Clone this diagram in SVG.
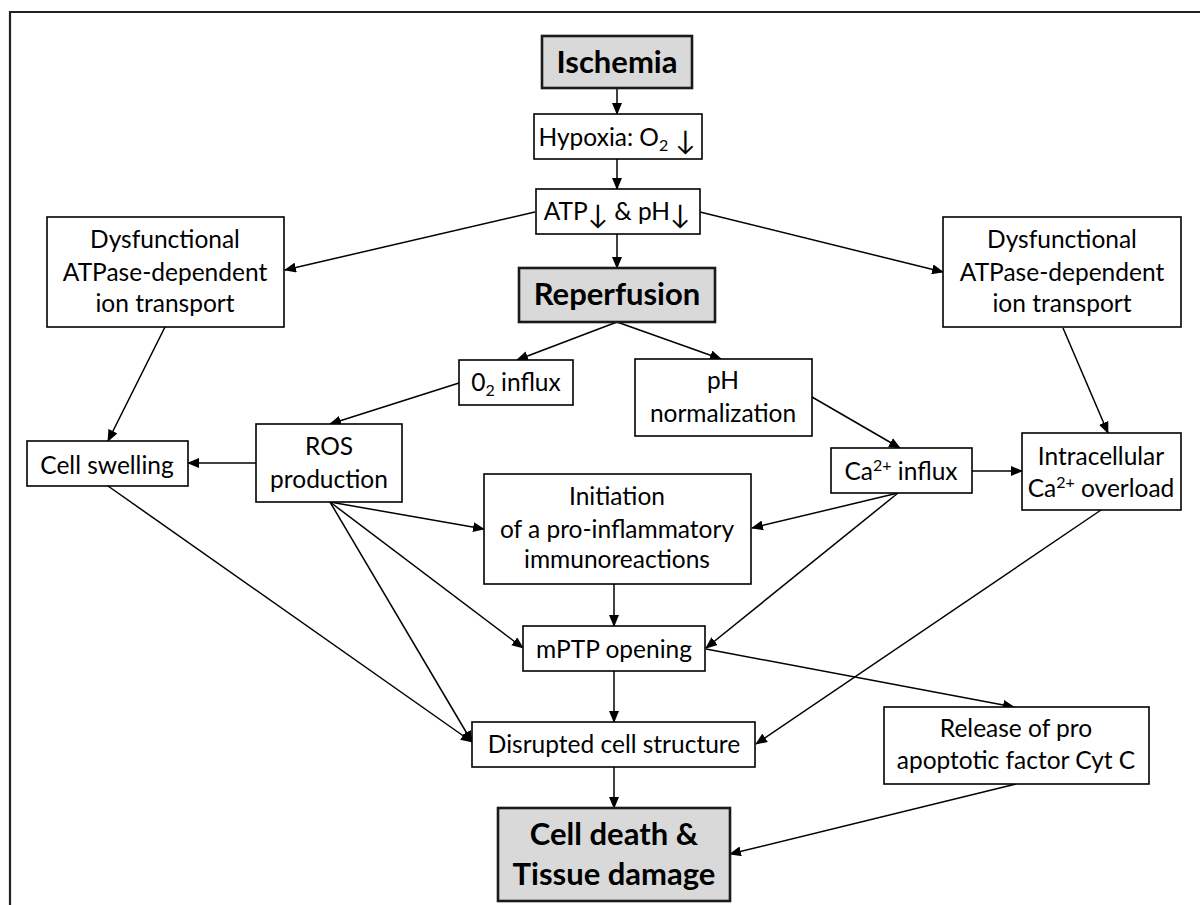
<svg xmlns="http://www.w3.org/2000/svg" width="1200" height="905" viewBox="0 0 1200 905">
<defs>
<marker id="ah" markerWidth="12" markerHeight="10" refX="11" refY="5" orient="auto" markerUnits="userSpaceOnUse">
<path d="M0,0 L12,5 L0,10 z" fill="#000"/>
</marker>
</defs>
<style>
.box{fill:#fff;stroke:#000;stroke-width:1.6}
.key{fill:#d9d9d9;stroke:#1a1a1a;stroke-width:2.6}
.t{font-family:Lato,"Liberation Sans",sans-serif;font-size:24.5px;fill:#000;text-anchor:middle}
.b{font-family:Lato,"Liberation Sans",sans-serif;font-size:31px;font-weight:bold;fill:#000;text-anchor:middle}
.c line{stroke:#000;stroke-width:1.5;marker-end:url(#ah)}
.s{font-size:16px}
.ar{font-size:27px}
</style>
<rect x="0" y="0" width="1200" height="905" fill="#fff"/>
<path d="M10,905 V12 H1200" fill="none" stroke="#222" stroke-width="2.2"/>

<g class="c" id="connectors">
<line x1="617" y1="88" x2="617" y2="114"/>
<line x1="617" y1="159" x2="617" y2="189"/>
<line x1="617" y1="234" x2="617" y2="268"/>
<line x1="535" y1="212" x2="285" y2="270"/>
<line x1="700" y1="212" x2="943" y2="272"/>
<line x1="617" y1="322" x2="517" y2="360"/>
<line x1="617" y1="322" x2="721" y2="359"/>
<line x1="459" y1="383" x2="330" y2="424"/>
<line x1="812" y1="397" x2="900" y2="448"/>
<line x1="165" y1="327" x2="108" y2="441"/>
<line x1="1063" y1="328" x2="1108" y2="433"/>
<line x1="256" y1="463" x2="188" y2="463"/>
<line x1="972" y1="471" x2="1022" y2="471"/>
<line x1="330" y1="502" x2="484" y2="529"/>
<line x1="898" y1="493" x2="752" y2="528"/>
<line x1="330" y1="502" x2="523" y2="648"/>
<line x1="330" y1="502" x2="472" y2="742"/>
<line x1="108" y1="486" x2="472" y2="742"/>
<line x1="614" y1="584" x2="614" y2="626"/>
<line x1="898" y1="493" x2="706" y2="648"/>
<line x1="614" y1="671" x2="614" y2="722"/>
<line x1="706" y1="649" x2="1014" y2="707"/>
<line x1="1101" y1="510" x2="756" y2="744"/>
<line x1="614" y1="767" x2="614" y2="808"/>
<line x1="1016" y1="784" x2="730" y2="854"/>
</g>

<g id="ischemia">
<rect class="key" x="542" y="36" width="150" height="52"/>
<text class="b" x="617" y="73">Ischemia</text>
</g>
<g id="hypoxia">
<rect class="box" x="534" y="114" width="168" height="45"/>
<text class="t" x="617" y="146">Hypoxia: O<tspan class="s" dy="5">2</tspan><tspan class="ar" dy="-1"> ↓</tspan></text>
</g>
<g id="atp">
<rect class="box" x="536" y="189" width="164" height="45"/>
<text class="t" x="617" y="220">ATP<tspan class="ar" dy="4">↓</tspan><tspan dy="-4"> &amp; pH</tspan><tspan class="ar" dy="4">↓</tspan></text>
</g>
<g id="dys-left">
<rect class="box" x="47" y="217" width="237" height="110"/>
<text class="t" x="165" y="248">Dysfunctional</text>
<text class="t" x="165" y="281">ATPase-dependent</text>
<text class="t" x="165" y="312">ion transport</text>
</g>
<g id="dys-right">
<rect class="box" x="943" y="217" width="238" height="110"/>
<text class="t" x="1062" y="248">Dysfunctional</text>
<text class="t" x="1062" y="281">ATPase-dependent</text>
<text class="t" x="1062" y="312">ion transport</text>
</g>
<g id="reperfusion">
<rect class="key" x="519" y="268" width="196" height="54"/>
<text class="b" x="617" y="305">Reperfusion</text>
</g>
<g id="o2-influx">
<rect class="box" x="459" y="360" width="114" height="45"/>
<text class="t" x="516" y="391">0<tspan class="s" dy="5">2</tspan><tspan dy="-5"> influx</tspan></text>
</g>
<g id="ph-norm">
<rect class="box" x="635" y="359" width="177" height="77"/>
<text class="t" x="723" y="389">pH</text>
<text class="t" x="723" y="422">normalization</text>
</g>
<g id="cell-swelling">
<rect class="box" x="27" y="441" width="161" height="45"/>
<text class="t" x="107" y="474">Cell swelling</text>
</g>
<g id="ros">
<rect class="box" x="256" y="424" width="146" height="78"/>
<text class="t" x="329" y="455">ROS</text>
<text class="t" x="329" y="488">production</text>
</g>
<g id="ca-influx">
<rect class="box" x="831" y="448" width="141" height="45"/>
<text class="t" x="901" y="480">Ca<tspan class="s" dy="-9">2+</tspan><tspan dy="9"> influx</tspan></text>
</g>
<g id="ca-overload">
<rect class="box" x="1022" y="433" width="159" height="77"/>
<text class="t" x="1101" y="465">Intracellular</text>
<text class="t" x="1101" y="497">Ca<tspan class="s" dy="-9">2+</tspan><tspan dy="9"> overload</tspan></text>
</g>
<g id="initiation">
<rect class="box" x="484" y="474" width="267" height="110"/>
<text class="t" x="617" y="505">Initiation</text>
<text class="t" x="617" y="538">of a pro-inflammatory</text>
<text class="t" x="617" y="568">immunoreactions</text>
</g>
<g id="mptp">
<rect class="box" x="523" y="626" width="182" height="45"/>
<text class="t" x="614" y="658">mPTP opening</text>
</g>
<g id="disrupted">
<rect class="box" x="472" y="722" width="283" height="45"/>
<text class="t" x="614" y="753">Disrupted cell structure</text>
</g>
<g id="release">
<rect class="box" x="884" y="707" width="265" height="77"/>
<text class="t" x="1016" y="737">Release of pro</text>
<text class="t" x="1016" y="769">apoptotic factor Cyt C</text>
</g>
<g id="cell-death">
<rect class="key" x="498" y="808" width="232" height="93"/>
<text class="b" x="614" y="845">Cell death &amp;</text>
<text class="b" x="614" y="885">Tissue damage</text>
</g>
</svg>
